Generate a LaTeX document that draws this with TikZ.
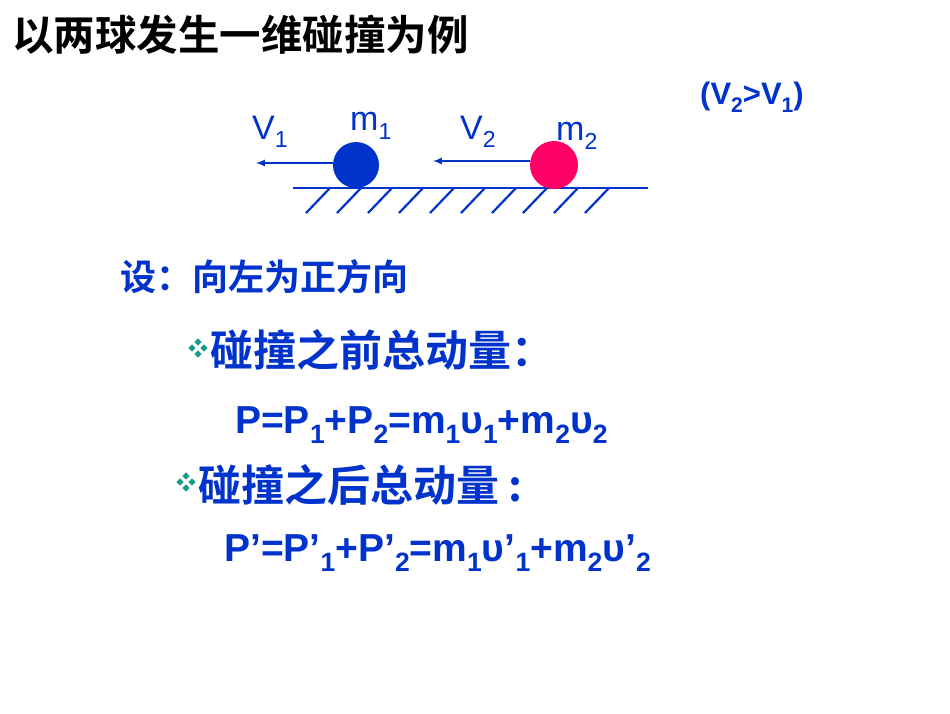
\documentclass[tikz,border=0pt]{standalone}
\usepackage{fontspec}
\setmainfont{Liberation Sans}
\newfontfamily\cjk{Noto Sans CJK SC}[BoldFont={* Bold}]
\definecolor{tblue}{HTML}{0033CC}
\definecolor{tred}{HTML}{FF0066}
\definecolor{teal2}{HTML}{1A9A8C}
\newcommand\sbs[1]{\raisebox{-0.25em}{\scalebox{0.68}{#1}}}
\begin{document}
\begin{tikzpicture}[x=1pt,y=-1pt,
  txt/.style={inner sep=0pt,anchor=west,text=tblue,font=\bfseries},
  bul/.pic={\foreach \dx/\dy in {0/-6,0/6,-6/0,6/0}{\fill[teal2] (\dx,\dy) ++(0,-3.6) -- ++(3.6,3.6) -- ++(-3.6,3.6) -- ++(-3.6,-3.6) -- cycle;}}]
\useasboundingbox (0,0) rectangle (950,713);
\fill[white] (0,0) rectangle (950,713);
\node[txt,text=black,font=\cjk\bfseries\fontsize{41.5}{46}\selectfont] (title) at (12,35) {以两球发生一维碰撞为例};
\node[txt,font=\bfseries\fontsize{31}{36}\selectfont] (cond) at (700,97) {(V\sbs{2}>V\sbs{1})};
% ground
\draw[tblue,line width=2.5pt] (293,188) -- (648,188);
\foreach \i in {0,...,9}{\draw[tblue,line width=2.2pt] (330+31*\i,188) -- (306+31*\i,213);}
\node[circle,fill=tblue,minimum size=46pt,inner sep=0pt] (b1) at (356,165) {};
\node[circle,fill=tred,minimum size=48pt,inner sep=0pt] (b2) at (554,165) {};
\coordinate (a1) at (256,163);
\coordinate (a2) at (433,161);
\draw[tblue,line width=2pt,-latex] (b1.west) ++(0,-2) -- (a1);
\draw[tblue,line width=2pt,-latex] (b2.west) ++(0,-4) -- (a2);
\node[txt,font=\fontsize{34}{36}\selectfont] (v1) at (252,132) {V\sbs{1}};
\node[txt,font=\fontsize{34}{36}\selectfont] (m1) at (350,126) {m\sbs{1}};
\node[txt,font=\fontsize{34}{36}\selectfont] (v2) at (460,132) {V\sbs{2}};
\node[txt,font=\fontsize{34}{36}\selectfont] (m2) at (556,136) {m\sbs{2}};
\node[txt,font=\cjk\bfseries\fontsize{36}{40}\selectfont] (set) at (120,277) {设：向左为正方向};
\pic at (198,348) {bul};
\node[txt,font=\cjk\bfseries\fontsize{43}{46}\selectfont] (before) at (210,350) {碰撞之前总动量：};
\node[txt,font=\bfseries\fontsize{39}{42}\selectfont] (f1) at (235,425) {P=P\sbs{1}+P\sbs{2}=m\sbs{1}υ\sbs{1}+m\sbs{2}υ\sbs{2}};
\pic at (186,482) {bul};
\node[txt,font=\cjk\bfseries\fontsize{43}{46}\selectfont] (after) at (198,485) {碰撞之后总动量 :};
\node[txt,font=\bfseries\fontsize{39}{42}\selectfont] (f2) at (224,553) {P’=P’\sbs{1}+P’\sbs{2}=m\sbs{1}υ’\sbs{1}+m\sbs{2}υ’\sbs{2}};
\end{tikzpicture}
\end{document}
